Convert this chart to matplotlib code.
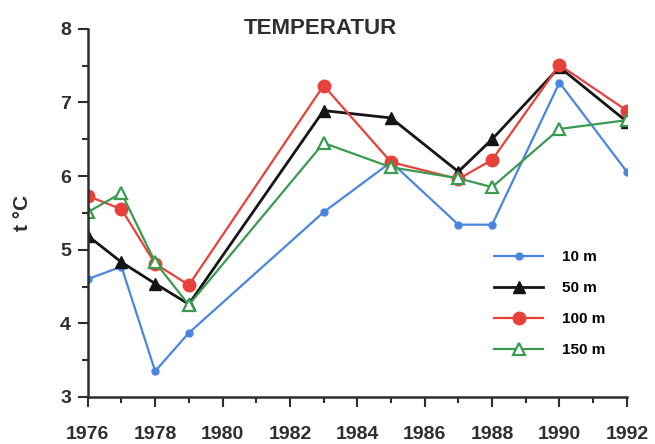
import numpy as np
import matplotlib.pyplot as plt
from matplotlib.ticker import MultipleLocator

years = [1976, 1977, 1978, 1979, 1983, 1985, 1987, 1988, 1990, 1992]
t10 = [4.60, 4.77, 3.35, 3.87, 5.51, 6.19, 5.34, 5.34, 7.27, 6.06]
t50 = [5.19, 4.83, 4.54, 4.26, 6.89, 6.79, 6.06, 6.50, 7.48, 6.74]
t100 = [5.73, 5.55, 4.81, 4.52, 7.23, 6.19, 5.96, 6.22, 7.51, 6.89]
t150 = [5.51, 5.77, 4.83, 4.25, 6.45, 6.12, 5.97, 5.85, 6.64, 6.76]
labels = ['10 m', '50 m', '100 m', '150 m']

plt.rcParams['font.family'] = ['Liberation Sans', 'DejaVu Sans']
plt.rcParams['font.weight'] = 'bold'
txt = '#2e2e2e'

fig = plt.figure(figsize=(6.55, 4.44), dpi=100)
ax = fig.add_axes([0.134, 0.106, 0.823, 0.829])

ax.plot(years, t10, color='#4a86e0', marker='o', ms=5, lw=1.6, label=labels[0])
ax.plot(years, t50, color='#151515', marker='^', ms=8, lw=2, label=labels[1])
ax.plot(years, t100, color='#e8403a', marker='o', ms=9, lw=1.6, label=labels[2])
ax.plot(years, t150, color='#3a9a50', marker='^', ms=8, lw=1.6, mfc='white',
        mew=1.6, label=labels[3])

ax.set_xlim(1976, 1992)
ax.set_ylim(3, 8)
ax.xaxis.set_major_locator(MultipleLocator(2))
ax.xaxis.set_minor_locator(MultipleLocator(1))
ax.yaxis.set_major_locator(MultipleLocator(1))
ax.yaxis.set_minor_locator(MultipleLocator(0.5))
ax.tick_params(which='both', direction='out', width=1.5, color=txt)
ax.tick_params(which='major', length=7, labelsize=14, labelcolor=txt)
ax.tick_params(axis='x', which='major', pad=14)
ax.tick_params(axis='y', which='major', pad=5)
ax.tick_params(which='minor', length=4)
ax.spines['top'].set_visible(False)
ax.spines['right'].set_visible(False)
for s in ['left', 'bottom']:
    ax.spines[s].set_linewidth(1.8)
    ax.spines[s].set_color(txt)

ax.set_ylabel('t °C', fontsize=15, fontweight='bold', color=txt, labelpad=20)
fig.text(320 / 655, 1 - 28 / 444, 'TEMPERATUR', fontsize=16, color=txt,
         ha='center', va='center')

ax.legend(loc='lower right', bbox_to_anchor=(0.985, 0.07), frameon=False,
          fontsize=11, handlelength=3.2, labelspacing=1.12, handletextpad=1.2)

fig.savefig('out.png', dpi=100)
